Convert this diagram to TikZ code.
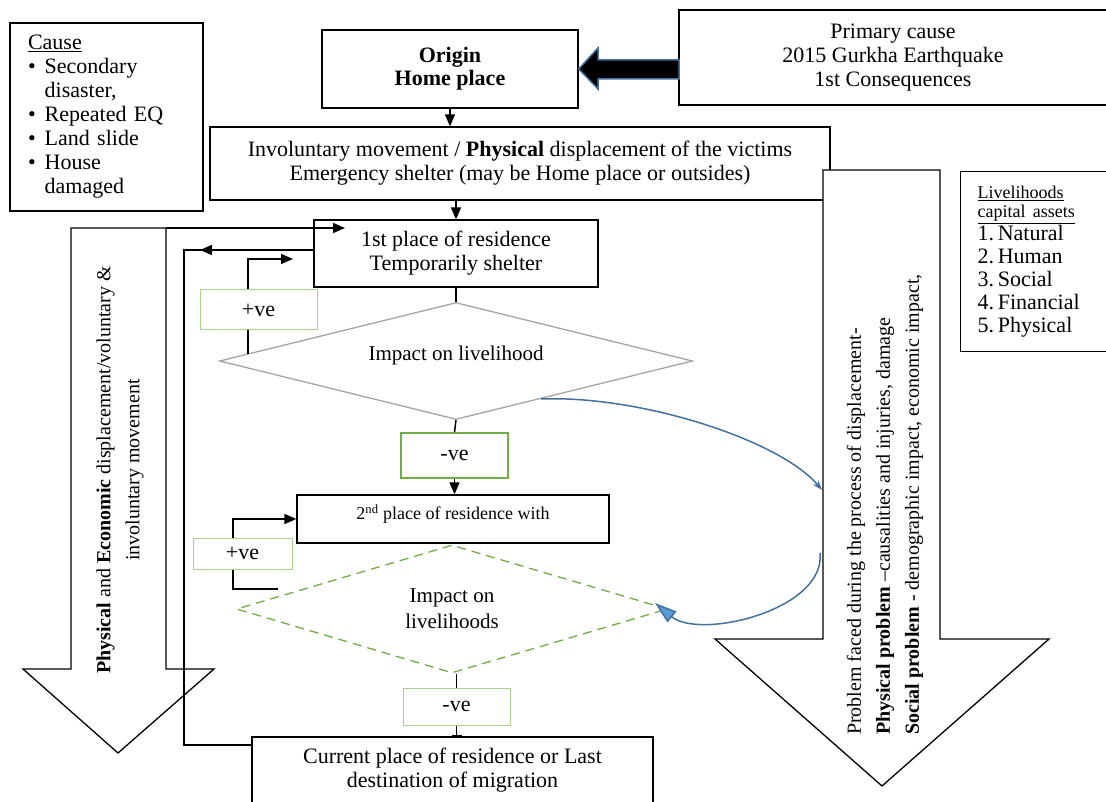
\documentclass[tikz,border=0pt]{standalone}
\usepackage{fontspec}
\setmainfont{Liberation Serif}
\usetikzlibrary{shapes.geometric,arrows.meta}
\definecolor{curveblue}{HTML}{41719C}
\definecolor{headblue}{HTML}{5B9BD5}
\definecolor{darkgreen}{HTML}{70AD47}
\definecolor{palegreen}{HTML}{A9D18E}
\definecolor{diagray}{HTML}{A5A5A5}
\newcommand{\fsz}[2]{\fontsize{#1}{#2}\selectfont}

\begin{document}
\begin{tikzpicture}[x=1pt, y=-1pt,
    box/.style={draw, line width=1.3pt, fill=white, align=center, inner sep=0pt, font=\fsz{22}{24}},
    posbox/.style={draw=palegreen, line width=1pt, fill=white, inner sep=0pt, font=\fsz{22}{24}},
    decision/.style={diamond, shape aspect=4, line width=1.3pt, inner sep=0pt, align=center},
    link/.style={line width=1.5pt},
    arr/.style={line width=1.5pt, -{Triangle[length=12pt,width=10pt]}},
    bigarrow/.style={draw, line width=1.3pt, fill=white},
    curve/.style={curveblue, line width=1.5pt}]
  \useasboundingbox (0,0) rectangle (1106,802);
  \clip (0,0) rectangle (1106,802);

  % side boxes
  \node[box, text width=157pt, inner xsep=18pt, align=left, minimum height=188pt] (cause) at (106.5,117)
    {\begin{tabular}{@{}l@{\hspace{9pt}}l@{}}
      \multicolumn{2}{@{}l}{\underline{Cause}}\\
      \textbullet & Secondary\\
                  & disaster,\\
      \textbullet & Repeated EQ\\
      \textbullet & Land slide\\
      \textbullet & House\\
                  & damaged
     \end{tabular}};
  \node[box, minimum width=428pt, minimum height=95pt] (prim) at (893,57.5)
    {Primary cause\\2015 Gurkha Earthquake\\1st Consequences};
  \node[box, anchor=north west, text width=130pt, inner xsep=17pt, align=left,
        minimum height=180pt] (live) at (960,171)
    {\fsz{18}{19}\underline{Livelihoods}\\\underline{capital assets}\par
     \fsz{22}{23}1.\,Natural\\2.\,Human\\3.\,Social\\4.\,Financial\\5.\,Physical\par};

  % main flow
  \node[box, minimum width=256pt, minimum height=78pt, font=\bfseries\fsz{22}{23}] (orig) at (450,69)
    {Origin\\Home place};
  \node[box, minimum width=620pt, minimum height=73pt] (inv) at (520,163.5)
    {Involuntary movement / \textbf{Physical} displacement of the victims\\
     Emergency shelter (may be Home place or outsides)};
  \node[box, minimum width=284pt, minimum height=67pt] (res1) at (456,253.5)
    {1st place of residence\\Temporarily shelter};
  \node[decision, draw=diagray, fill=white, minimum width=473pt, minimum height=117pt,
        font=\fsz{21}{24}] (imp1) at (456,361) {Impact on livelihood\\[-8pt]};
  \node[posbox, draw=darkgreen, line width=2pt, minimum width=107pt, minimum height=45pt] (neg1)
    at (454.5,455.5) {-ve};
  \node[posbox, minimum width=117pt, minimum height=40pt] (pos1) at (258.5,310) {+ve};
  \node[box, minimum width=312pt, minimum height=48pt, font=\fsz{18}{20}] (res2) at (453,519)
    {2\textsuperscript{nd} place of residence with\\[-6pt]};
  \node[decision, draw=darkgreen, dashed, dash pattern=on 9pt off 6pt, minimum width=431pt,
        minimum height=128pt, font=\fsz{21}{26}] (imp2) at (452,609) {Impact on\\livelihoods};
  \node[posbox, minimum width=99pt, minimum height=31pt] (pos2) at (242.5,553.5) {+ve};
  \node[posbox, minimum width=107pt, minimum height=37pt] (neg2) at (456.5,706.5) {-ve};
  \node[box, minimum width=401pt, minimum height=66pt] (cur) at (452.5,770)
    {Current place of residence or Last\\destination of migration};

  % big hollow arrows
  \draw[bigarrow] (71,228) -- (166,228) -- (166,669) -- (214,669) -- (118,753)
    -- (23,669) -- (71,669) -- cycle;
  \node[rotate=90, align=center, font=\fsz{20}{29}] (leftlbl) at (120,470)
    {\textbf{Physical} and \textbf{Economic} displacement/voluntary \&\\involuntary movement};
  \draw[bigarrow] (823,170) -- (940,170) -- (940,639) -- (1049,639) -- (882,786)
    -- (715,639) -- (823,639) -- cycle;
  \node[rotate=90, anchor=west, align=left, inner sep=0pt, font=\fsz{20}{29}] (rightlbl) at (885,735)
    {Problem faced during the process of displacement-\\
     \textbf{Physical problem} –causalities and injuries, damage\\
     \textbf{Social problem} - demographic impact, economic impact,};

  % fat arrow from primary cause
  \draw[curveblue, line width=1.5pt, fill=black] (orig.east) -- (598,48) -- (598,60) -- (679,60)
    -- (679,79) -- (598,79) -- (598,89) -- cycle;

  % connectors
  \draw[arr] (orig.south) -- (orig.south |- inv.north);
  \draw[arr] (res1.north |- inv.south) -- (res1.north);
  \draw[link] (res1.south) -- (imp1.north);
  \draw[link] (imp1.south) -- (neg1.north);
  \draw[arr] (neg1.south) -- (neg1.south |- res2.north);
  \draw[link] (neg2.north |- imp2.south) -- (neg2.north);
  \draw[link, -{Bar[width=10pt]}] (neg2.south) -- (neg2.south |- cur.north);

  \coordinate (edge1) at (248,354);
  \coordinate (tip1) at (293,259);
  \draw[link] (edge1) -- ([xshift=-10.5pt]pos1.south);
  \draw[arr] ([xshift=-10.5pt]pos1.north) |- (tip1);
  \coordinate (edge2) at (278,589);
  \draw[link] (edge2) -| ([xshift=-9.5pt]pos2.south);
  \draw[arr] ([xshift=-9.5pt]pos2.north) |- (res2.west);

  \coordinate (arrtop) at (166,228);
  \draw[arr] (arrtop) -- (345,228);
  \draw[link] (res1.west |- 0,250) -| (184,745) -- (cur.west |- 0,745);
  \draw[arr] (res1.west |- 0,250) -- (200,250);

  \coordinate (edge3) at (541,399);
  \coordinate (edge4) at (820,553);
  \draw[curve, -{Stealth[length=10pt,width=7pt]}] (edge3) .. controls (640,395) and (780,440) .. (822,490);
  \draw[curve, -{Triangle[length=22pt,width=14pt,fill=headblue]}] (edge4)
    .. controls (826,610) and (700,640) .. (655,603);
\end{tikzpicture}
\end{document}
